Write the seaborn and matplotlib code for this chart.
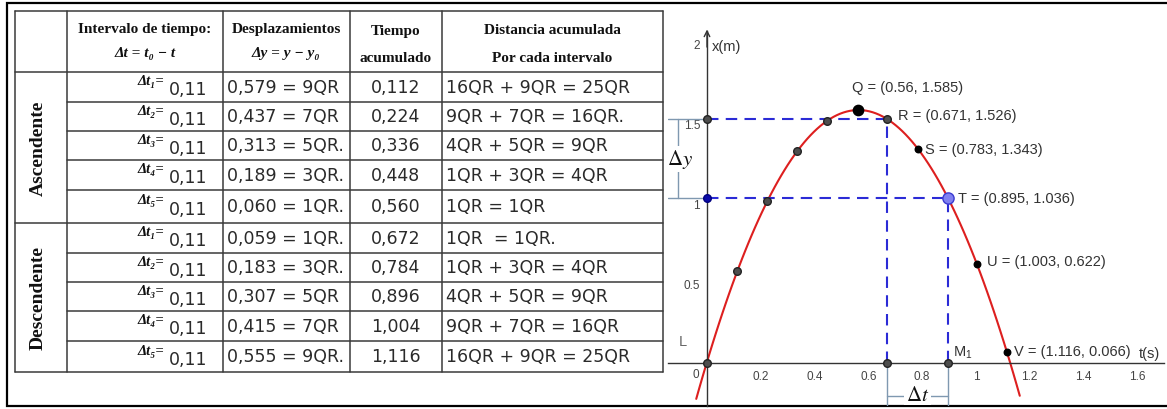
import numpy as np
import pandas as pd
import matplotlib
matplotlib.use('Agg')
import matplotlib.pyplot as plt
import seaborn as sns

sns.set_style('white')
plt.rcParams['font.family'] = ['Liberation Sans', 'DejaVu Sans']
plt.rcParams['mathtext.fontset'] = 'stix'

# ---- datos de la tabla ----
fases = ['Ascendente', 'Descendente']
intervalos = ['Δt₁=', 'Δt₂=', 'Δt₃=', 'Δt₄=', 'Δt₅=',
              'Δt₁=', 'Δt₂=', 'Δt₃=', 'Δt₄=', 'Δt₅=']
dt_valor = ['0,11', '0,11', '0,11', '0,11', '0,11',
            '0,11', '0,11', '0,11', '0,11', '0,11']
desplazamientos = ['0,579 = 9QR', '0,437 = 7QR', '0,313 = 5QR.', '0,189 = 3QR.', '0,060 = 1QR.',
                   '0,059 = 1QR.', '0,183 = 3QR.', '0,307 = 5QR', '0,415 = 7QR', '0,555 = 9QR.']
tiempo_acum = ['0,112', '0,224', '0,336', '0,448', '0,560',
               '0,672', '0,784', '0,896', '1,004', '1,116']
distancia = ['16QR + 9QR = 25QR', '9QR + 7QR = 16QR.', '4QR + 5QR = 9QR', '1QR + 3QR = 4QR', '1QR = 1QR',
             '1QR  = 1QR.', '1QR + 3QR = 4QR', '4QR + 5QR = 9QR', '9QR + 7QR = 16QR', '16QR + 9QR = 25QR']

# ---- datos de la grafica ----
t_pts = [0, 0.112, 0.224, 0.336, 0.448, 0.56, 0.671, 0.783, 0.895, 1.003, 1.116]
y_pts = [0, 0.579, 1.016, 1.329, 1.518, 1.585, 1.526, 1.343, 1.036, 0.622, 0.066]
nombres = ['L', '', '', '', '', 'Q', 'R', 'S', 'T', 'U', 'V']
tipo = ['gris', 'gris', 'gris', 'gris', 'gris', 'negro_g', 'gris', 'negro', 'azul_g', 'negro', 'negro']
xticks = [0.2, 0.4, 0.6, 0.8, 1, 1.2, 1.4, 1.6]
yticks = [0.5, 1, 1.5, 2]

W, H = 1167, 410
fig = plt.figure(figsize=(W / 100, H / 100), dpi=100)

# ---------------- tabla (coordenadas en pixeles) ----------------
tab = fig.add_axes([0, 0, 1, 1])
tab.set_xlim(0, W)
tab.set_ylim(H, 0)
tab.axis('off')

# marco general
tab.plot([W, 7, 7, W], [4, 4, 407, 407], color='black', lw=1.6, solid_joinstyle='miter')

col_x = [15, 67, 223, 350, 442, 663]
fila_y = [12, 73, 103, 132, 161, 191, 224, 254, 283, 312, 342, 373]
lc = '#3a3a3a'
for x in col_x:
    tab.plot([x, x], [fila_y[0], fila_y[-1]], color=lc, lw=1.1)
for i, y in enumerate(fila_y):
    x0 = col_x[0] if i in (0, 1, 6, 11) else col_x[1]
    tab.plot([x0, col_x[-1]], [y, y], color=lc, lw=1.1)

serif = ['Liberation Serif', 'DejaVu Serif']
hdr = dict(ha='center', va='center', fontsize=11, fontweight='bold', family=serif, color='#111')
tab.text(145, 29, 'Intervalo de tiempo:', **hdr)
tab.text(145, 54, 'Δt = t₀ − t', style='italic', **hdr)
tab.text(286, 29, 'Desplazamientos', **hdr)
tab.text(286, 54, 'Δy = y − y₀', style='italic', **hdr)
tab.text(396, 31, 'Tiempo', **hdr)
tab.text(396, 58, 'acumulado', **hdr)
tab.text(552, 31, 'Distancia acumulada', **hdr)
tab.text(552, 58, 'Por cada intervalo', **hdr)

tab.text(38, 148, fases[0], rotation=90, ha='center', va='center', fontsize=14,
         fontweight='bold', family=serif, color='#111')
tab.text(38, 298, fases[1], rotation=90, ha='center', va='center', fontsize=14,
         fontweight='bold', family=serif, color='#111')

mano = dict(va='center', fontsize=12.5, family='DejaVu Sans', color='#2a2a2a')
for i in range(10):
    r0, r1 = fila_y[i + 1], fila_y[i + 2]
    h = r1 - r0
    tab.text(164, r0 + 0.3 * h, intervalos[i], ha='right', va='center', fontsize=10.5,
             fontweight='bold', style='italic', family=serif, color='#111')
    tab.text(169, r0 + 0.58 * h, dt_valor[i], ha='left', **mano)
    tab.text(227, r0 + 0.5 * h, desplazamientos[i], ha='left', **mano)
    tab.text(396, r0 + 0.5 * h, tiempo_acum[i], ha='center', **mano)
    tab.text(446, r0 + 0.5 * h, distancia[i], ha='left', **mano)

# ---------------- grafica ----------------
ax = fig.add_axes([668 / W, (H - 407) / H, (1165 - 668) / W, (407 - 5) / H])
ax.patch.set_alpha(0)

df = pd.DataFrame({'t': t_pts, 'y': y_pts, 'nombre': nombres, 'tipo': tipo})
R = df[df.nombre == 'R'].iloc[0]
T = df[df.nombre == 'T'].iloc[0]

# parabola ajustada a los puntos
ax.set_xlim(-0.04, 1.163)
sns.regplot(data=df, x='t', y='y', order=2, ci=None, scatter=False, truncate=False, ax=ax,
            line_kws=dict(color='#dd1f1f', lw=1.5, zorder=2))
ax.set_xlim(-0.145, 1.703)
ax.set_ylim(-0.27, 2.25)
ax.set_xlabel('')
ax.set_ylabel('')

# lineas guia
for p in (R, T):
    ax.plot([0, p.t, p.t], [p.y, p.y, 0], color='#2b2bd6', lw=1.5, dashes=(5.5, 3.5), zorder=3)

# ejes tipo GeoGebra
sns.despine(ax=ax)
ax.spines['left'].set_position(('data', 0))
ax.spines['bottom'].set_position(('data', 0))
ax.spines['left'].set_bounds(-0.27, 2.08)
ax.spines['bottom'].set_bounds(-0.145, 1.70)
for s in ('left', 'bottom'):
    ax.spines[s].set_color('#333333')
    ax.spines[s].set_linewidth(1)
ax.annotate('', xy=(0, 2.09), xytext=(0, 1.98),
            arrowprops=dict(arrowstyle='->', lw=1, color='#333333', shrinkA=0, shrinkB=0))
ax.annotate('', xy=(1.71, 0), xytext=(1.6, 0),
            arrowprops=dict(arrowstyle='->', lw=1, color='#333333', shrinkA=0, shrinkB=0))
ax.set_xticks(xticks, labels=[f'{v:g}' for v in xticks])
ax.set_yticks(yticks, labels=[f'{v:g}' for v in yticks])
ax.tick_params(direction='out', length=3, width=0.8, colors='#333333', labelsize=8.5,
               labelcolor='#444444', pad=2)
ax.annotate('0', xy=(0, 0), xytext=(-11, -11), textcoords='offset pixels',
            ha='center', va='center', fontsize=8.5, color='#444444')
ax.annotate('x(m)', xy=(0, 2), xytext=(5, -2), textcoords='offset pixels',
            ha='left', va='center', fontsize=10.5, color='#333333')
ax.annotate('t(s)', xy=(1.6, 0), xytext=(1, 10), textcoords='offset pixels',
            ha='left', va='center', fontsize=10.5, color='#333333')

# puntos
estilos = {
    'gris': dict(s=30, color='#4d4d4d', edgecolor='#222222'),
    'negro': dict(s=22, color='black', edgecolor='black'),
    'negro_g': dict(s=55, color='black', edgecolor='black'),
    'azul_g': dict(s=65, color='#8080f0', edgecolor='#3a3ad0'),
    'azul': dict(s=30, color='#0a0aa8', edgecolor='#000080'),
}
ejes = pd.DataFrame({'t': [0, R.t, T.t, 0], 'y': [R.y, 0, 0, T.y],
                     'tipo': ['gris', 'gris', 'gris', 'azul']})
todos = pd.concat([df[['t', 'y', 'tipo']], ejes], ignore_index=True)
for k, g in todos.groupby('tipo'):
    sns.scatterplot(data=g, x='t', y='y', ax=ax, linewidth=1, zorder=5, legend=False, **estilos[k])
ax.set_xlabel('')
ax.set_ylabel('')

# etiquetas de puntos
offs = {'Q': (-6, 23), 'R': (11, 4), 'S': (7, 0), 'T': (10, 0), 'U': (10, 3), 'V': (7, 1)}
for _, p in df.iterrows():
    if p.nombre in offs:
        ax.annotate(f'{p.nombre} = ({p.t:g}, {p.y:g})', xy=(p.t, p.y), xytext=offs[p.nombre],
                    textcoords='offset pixels', ha='left', va='center', fontsize=10.5, color='#333333')
ax.annotate('L', xy=(0, 0), xytext=(-24, 22), textcoords='offset pixels',
            ha='center', va='center', fontsize=10.5, color='#666666')
ax.annotate(r'$\mathregular{M_1}$', xy=(T.t, 0), xytext=(5, 11), textcoords='offset pixels',
            ha='left', va='center', fontsize=10.5, color='#333333')

# llaves de Δy y Δt
bc = '#7f98b0'
ax.plot([-0.145, 0], [R.y, R.y], color=bc, lw=1, zorder=1)
ax.plot([-0.145, 0], [T.y, T.y], color=bc, lw=1, zorder=1)
ax.plot([-0.108, -0.108], [R.y, T.y], color=bc, lw=1, zorder=1)
ax.text(-0.1, (R.y + T.y) / 2, r'$\Delta y$', ha='center', va='center', fontsize=15,
        color='#111111', bbox=dict(facecolor='white', edgecolor='none', pad=1))
yb = -0.207
ax.plot([R.t, R.t], [0, -0.27], color=bc, lw=1, zorder=1)
ax.plot([T.t, T.t], [0, -0.27], color=bc, lw=1, zorder=1)
ax.plot([R.t, T.t], [yb, yb], color=bc, lw=1, zorder=1)
ax.text((R.t + T.t) / 2, yb + 0.01, r'$\Delta t$', ha='center', va='center', fontsize=15,
        color='#111111', bbox=dict(facecolor='white', edgecolor='none', pad=1))

fig.savefig('out.png', dpi=100)
